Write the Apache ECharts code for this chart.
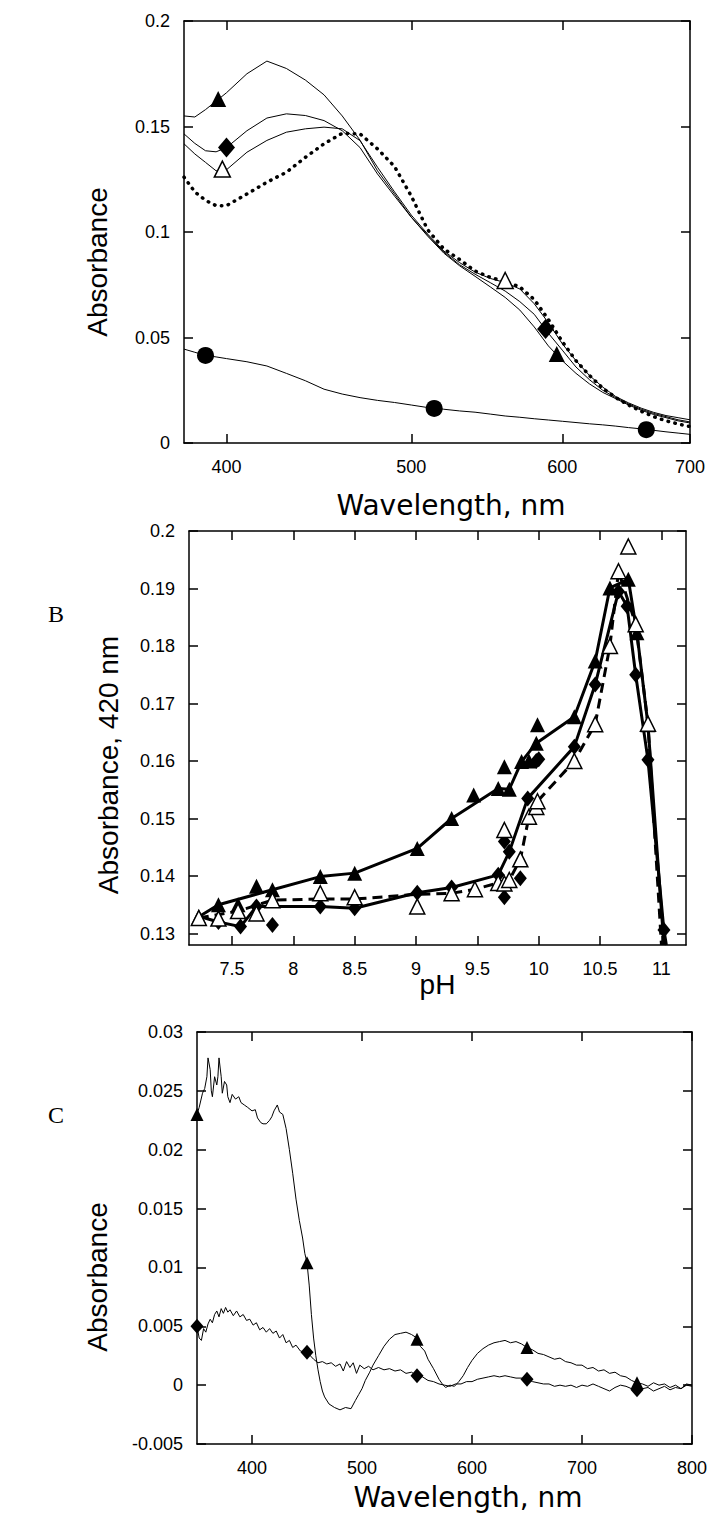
<!DOCTYPE html>
<html><head><meta charset="utf-8">
<script src="https://cdn.jsdelivr.net/npm/echarts@6.0.0/dist/echarts.min.js"></script>
<style>html,body{margin:0;padding:0;background:#fff}#chart{width:713px;height:1518px}</style>
</head><body><div id="chart"></div>
<script>
// ---------- Panel A: spectra (log wavelength axis) ----------
const wlA = [380,385,390,395,400,410,420,430,440,450,460,470,480,490,500,510,520,530,540,550,560,570,580,590,600,610,620,630,640,650,660,670,680,690,700];
const absA_triangle = [0.155,0.1545,0.158,0.162,0.166,0.175,0.181,0.1775,0.172,0.165,0.155,0.1435,0.129,0.118,0.107,0.098,0.090,0.084,0.079,0.074,0.069,0.063,0.055,0.046,0.039,0.033,0.028,0.024,0.021,0.018,0.0155,0.0135,0.012,0.0105,0.0095];
const absA_diamond = [0.1465,0.142,0.1385,0.138,0.140,0.148,0.154,0.156,0.1552,0.1528,0.148,0.140,0.1275,0.117,0.107,0.0985,0.0905,0.0845,0.080,0.076,0.072,0.067,0.061,0.052,0.044,0.036,0.030,0.025,0.0215,0.0185,0.016,0.014,0.0125,0.011,0.010];
const absA_openTriangle = [0.1418,0.137,0.133,0.129,0.1295,0.1378,0.1434,0.1473,0.1489,0.1497,0.1489,0.1433,0.1307,0.119,0.108,0.099,0.091,0.0855,0.081,0.078,0.076,0.073,0.066,0.057,0.047,0.039,0.032,0.0265,0.022,0.019,0.0165,0.0145,0.013,0.012,0.011];
const absA_dotted = [0.126,0.119,0.115,0.1125,0.1125,0.118,0.1236,0.1283,0.1354,0.1418,0.1468,0.1465,0.1394,0.131,0.117,0.101,0.092,0.087,0.0815,0.0785,0.0765,0.074,0.068,0.0585,0.048,0.039,0.032,0.026,0.0215,0.018,0.015,0.0125,0.0105,0.009,0.0078];
const absA_circle = [0.0445,0.043,0.0415,0.0408,0.040,0.0385,0.0365,0.033,0.0295,0.0255,0.0232,0.0215,0.0202,0.0192,0.018,0.0168,0.016,0.0152,0.0146,0.0137,0.0128,0.0122,0.0115,0.0109,0.0103,0.0097,0.0091,0.0086,0.008,0.0073,0.0067,0.006,0.0053,0.0047,0.0041];
const markA_triangle = [[396,0.163],[596,0.0422]];
const markA_diamond = [[400,0.140],[588,0.054]];
const markA_openTriangle = [[398,0.1298],[560,0.077]];
const markA_circle = [[390,0.0415],[514,0.0164],[664,0.0063]];
const ticksA_x = [400,500,600,700];

// ---------- Panel B: absorbance at 420 nm vs pH ----------
const pHB_triangle = [7.23,7.39,7.55,7.70,7.83,8.22,8.50,9.01,9.29,9.47,9.67,9.72,9.76,9.86,9.92,9.98,9.99,10.29,10.46,10.58,10.73,10.80,10.89];
const absB_triangle = [0.1329,0.1350,0.1350,0.1382,0.1376,0.1399,0.1405,0.1448,0.1500,0.1541,0.1552,0.1590,0.1551,0.1599,0.1600,0.1631,0.1663,0.1677,0.1774,0.1901,0.1916,0.1823,0.1663];
const pHB_triangleLine = [7.23,7.39,7.83,8.22,8.50,9.01,9.29,9.67,9.76,9.86,9.98,10.29,10.46,10.58,10.73,10.80,10.89,11.02];
const absB_triangleLine = [0.1329,0.1350,0.1376,0.1399,0.1405,0.1448,0.1500,0.1552,0.1551,0.1599,0.1631,0.1677,0.1774,0.1901,0.1916,0.1823,0.1663,0.128];
const pHB_diamond = [7.39,7.57,7.70,7.83,8.22,8.50,9.01,9.29,9.67,9.72,9.72,9.76,9.85,9.91,9.98,10.00,10.29,10.46,10.65,10.72,10.79,10.89,11.02];
const absB_diamond = [0.1320,0.1312,0.1347,0.1315,0.1347,0.1344,0.1371,0.1380,0.1402,0.1363,0.1460,0.1442,0.1396,0.1535,0.1600,0.1603,0.1625,0.1733,0.1895,0.1869,0.1750,0.1602,0.1306];
const pHB_diamondLine = [7.23,7.39,7.57,7.70,8.22,8.50,9.01,9.29,9.67,9.76,9.91,10.29,10.46,10.65,10.72,10.79,10.89,11.02,11.04];
const absB_diamondLine = [0.1330,0.1320,0.1312,0.1347,0.1347,0.1344,0.1371,0.1380,0.1402,0.1442,0.1535,0.1625,0.1733,0.1895,0.1869,0.1750,0.1602,0.1306,0.128];
const pHB_openTriangle = [7.23,7.39,7.55,7.70,7.83,8.22,8.50,9.01,9.29,9.48,9.67,9.72,9.72,9.76,9.85,9.92,9.98,9.99,10.29,10.46,10.58,10.65,10.73,10.79,10.89];
const absB_openTriangle = [0.1327,0.1326,0.1339,0.1335,0.1358,0.1370,0.1363,0.1347,0.1370,0.1377,0.1388,0.1480,0.1387,0.1393,0.1429,0.1503,0.1520,0.1530,0.1600,0.1664,0.1800,0.1930,0.1973,0.1838,0.1665];
const pHB_dashedLine = [7.23,7.55,7.83,8.22,8.50,9.01,9.29,9.48,9.67,9.76,9.85,9.92,9.99,10.29,10.46,10.58,10.65,10.79,10.89,11.00];
const absB_dashedLine = [0.1327,0.1339,0.1358,0.1360,0.1360,0.1368,0.1370,0.1377,0.1388,0.1393,0.1429,0.1503,0.1530,0.1600,0.1664,0.1800,0.1930,0.1838,0.1665,0.128];
const ticksB_x = [7.5,8,8.5,9,9.5,10,10.5,11];
const ticksB_y = [0.13,0.14,0.15,0.16,0.17,0.18,0.19,0.2];

// ---------- Panel C: difference spectra ----------
const wlC_triangle = [350,352,355,357,359,360,362,363,364,366,368,369,370,372,373,375,377,378,380,382,385,388,390,393,396,400,403,405,408,410,413,416,418,420,423,425,428,431,434,437,440,443,446,448,450,452,454,456,458,460,462,464,466,470,475,480,485,490,494,497,500,503,507,510,515,520,525,530,535,540,545,550,553,557,560,565,570,573,576,580,584,588,592,596,600,605,610,615,620,625,630,635,640,645,650,655,660,665,670,675,680,685,690,695,700,705,710,715,720,725,730,735,740,745,750,755,760,765,770,775,780,785,790,795,800];
const absC_triangle = [0.0230,0.0236,0.0248,0.0252,0.0262,0.0278,0.0268,0.0250,0.0245,0.0262,0.0255,0.0262,0.0278,0.0262,0.0248,0.0258,0.0255,0.0245,0.0240,0.0247,0.0243,0.0245,0.0240,0.0238,0.0236,0.0233,0.0234,0.0227,0.0223,0.0222,0.0222,0.0225,0.0228,0.0233,0.0238,0.0232,0.0230,0.0218,0.0200,0.0180,0.0158,0.0140,0.0125,0.0112,0.0104,0.0085,0.0060,0.0040,0.0025,0.0013,0.0003,-0.0005,-0.0010,-0.0016,-0.0019,-0.0021,-0.0019,-0.0020,-0.0013,-0.0008,-0.0003,0.0004,0.0011,0.0017,0.0025,0.0033,0.0039,0.0043,0.0044,0.0045,0.0043,0.0040,0.0033,0.0029,0.0022,0.0014,0.0005,0.0001,-0.0002,0.0000,-0.0001,0.0003,0.0008,0.0015,0.0021,0.0027,0.0031,0.0034,0.0036,0.0037,0.0038,0.0036,0.0037,0.0035,0.0032,0.0030,0.0027,0.0026,0.0024,0.0022,0.0023,0.0020,0.0019,0.0017,0.0017,0.0014,0.0015,0.0012,0.0013,0.0010,0.0011,0.0008,0.0007,0.0004,0.0002,0.0001,-0.0001,0.0002,0.0000,0.0001,-0.0002,0.0000,-0.0003,0.0001,0.0000];
const wlC_diamond = [350,352,354,356,358,360,362,364,366,368,370,372,374,376,378,380,383,386,389,392,395,398,401,404,407,410,413,416,419,422,425,428,431,434,437,440,444,448,452,456,460,464,468,472,476,480,483,486,489,492,495,498,502,506,510,515,520,525,530,535,540,545,550,555,560,565,570,575,580,585,590,595,600,605,610,615,620,625,630,635,640,645,650,655,660,665,670,675,680,685,690,695,700,705,710,715,720,725,730,735,740,745,750,755,760,765,770,775,780,785,790,795,800];
const absC_diamond = [0.0050,0.0040,0.0038,0.0048,0.0045,0.0052,0.0056,0.0053,0.0060,0.0063,0.0058,0.0065,0.0061,0.0066,0.0062,0.0064,0.0059,0.0063,0.0058,0.0060,0.0055,0.0056,0.0051,0.0053,0.0047,0.0049,0.0045,0.0048,0.0044,0.0046,0.0040,0.0043,0.0036,0.0038,0.0032,0.0034,0.0029,0.0028,0.0026,0.0022,0.0019,0.0020,0.0018,0.0019,0.0016,0.0018,0.0012,0.0020,0.0015,0.0019,0.0010,0.0017,0.0014,0.0016,0.0013,0.0015,0.0013,0.0014,0.0012,0.0013,0.0010,0.0011,0.0008,0.0007,0.0004,0.0003,0.0001,0.0000,-0.0001,0.0001,0.0001,0.0003,0.0003,0.0005,0.0006,0.0007,0.0008,0.0007,0.0008,0.0007,0.0006,0.0006,0.0005,0.0003,0.0002,0.0001,0.0001,-0.0001,0.0000,-0.0001,0.0000,-0.0002,0.0000,-0.0001,0.0001,-0.0001,-0.0003,-0.0005,-0.0002,0.0000,-0.0001,-0.0003,-0.0004,-0.0003,-0.0002,-0.0005,-0.0003,-0.0001,-0.0004,-0.0002,-0.0003,0.0000,-0.0001];
const markC_triangle = [[350,0.0230],[450,0.0104],[550,0.0039],[650,0.0032],[750,0.0002]];
const markC_diamond = [[350,0.0050],[450,0.0028],[550,0.0008],[650,0.0005],[750,-0.0004]];
const ticksC_x = [400,500,600,700,800];

// ---------- helpers ----------
const SANS = '"Liberation Sans", Arial, Helvetica, sans-serif';
const DEJAVU = '"DejaVu Sans", Verdana, sans-serif';
const SERIF = '"Liberation Serif", "Times New Roman", serif';
const zip = (xs, ys) => xs.map((x, i) => [x, ys[i]]);
const BLACK = '#000';
const axisLine = {show: true, onZero: false, lineStyle: {color: BLACK, width: 1.5}};
const tickBase = {show: true, inside: true, length: 9, lineStyle: {color: BLACK, width: 1.5}};
const labelBase = {color: BLACK, fontFamily: SANS, fontSize: 18};

function xAxes(g, base, custom, fmt, name, nameGap, nameFont, padLeft) {
  const bottom = Object.assign({}, base, {
    gridIndex: g, position: 'bottom', axisLine,
    axisTick: Object.assign({}, tickBase, custom ? {customValues: custom} : {}),
    axisLabel: Object.assign({}, labelBase, {margin: 15, formatter: fmt}, custom ? {customValues: custom} : {}),
    splitLine: {show: false},
    name, nameLocation: 'middle', nameGap, nameMoveOverlap: false,
    nameTextStyle: {color: BLACK, fontFamily: nameFont, fontSize: 28, padding: [0, 0, 0, padLeft]}
  });
  const top = Object.assign({}, base, {
    gridIndex: g, position: 'top', axisLine,
    axisTick: Object.assign({}, tickBase, custom ? {customValues: custom} : {}),
    axisLabel: {show: false}, splitLine: {show: false}
  });
  return [bottom, top];
}
function yAxes(g, base, custom, fmt, name, nameGap, padRight) {
  const left = Object.assign({}, base, {
    gridIndex: g, position: 'left', axisLine,
    axisTick: Object.assign({}, tickBase, custom ? {customValues: custom} : {}),
    axisLabel: Object.assign({}, labelBase, {margin: 14, formatter: fmt}, custom ? {customValues: custom} : {}),
    splitLine: {show: false},
    name, nameLocation: 'middle', nameGap, nameMoveOverlap: false,
    nameTextStyle: {color: BLACK, fontFamily: SANS, fontSize: 28, padding: [0, padRight, 0, 0]}
  });
  const right = Object.assign({}, base, {
    gridIndex: g, position: 'right', axisLine,
    axisTick: Object.assign({}, tickBase, custom ? {customValues: custom} : {}),
    axisLabel: {show: false}, splitLine: {show: false}
  });
  return [left, right];
}
function lineS(g, data, lineStyle) {
  return {type: 'line', xAxisIndex: 2 * g, yAxisIndex: 2 * g, data, symbol: 'none', showSymbol: false,
    clip: true, animation: false, silent: true, z: 2,
    lineStyle: Object.assign({color: BLACK, width: 1, opacity: 1}, lineStyle)};
}
function markS(g, data, symbol, size, filled) {
  return {type: 'scatter', xAxisIndex: 2 * g, yAxisIndex: 2 * g, data, symbol, symbolSize: size,
    animation: false, silent: true, z: 3,
    itemStyle: filled ? {color: BLACK, opacity: 1} : {color: '#fff', borderColor: BLACK, borderWidth: 1.5, opacity: 1}};
}
const fmtNum = (d) => (v) => String(+(+v).toFixed(d));

const option = {
  backgroundColor: '#fff',
  animation: false,
  grid: [
    {left: 184, top: 21, width: 506, height: 422, containLabel: false, outerBoundsMode: 'none'},
    {left: 189, top: 531, width: 497, height: 414, containLabel: false, outerBoundsMode: 'none'},
    {left: 197, top: 1032, width: 495, height: 412, containLabel: false, outerBoundsMode: 'none'}
  ],
  xAxis: [
    ...xAxes(0, {type: 'log', logBase: 10, min: 380, max: 700}, ticksA_x, (v) => String(Math.round(v)), 'Wavelength, nm', 48, DEJAVU, 28),
    ...xAxes(1, {type: 'value', min: 7.15, max: 11.2}, ticksB_x, fmtNum(1), 'pH', 25, SANS, 0),
    ...xAxes(2, {type: 'value', min: 350, max: 800}, ticksC_x, (v) => String(Math.round(v)), 'Wavelength, nm', 39, DEJAVU, 47)
  ],
  yAxis: [
    ...yAxes(0, {type: 'value', min: 0, max: 0.2, interval: 0.05}, null, fmtNum(2), 'Absorbance', 73, 60),
    ...yAxes(1, {type: 'value', min: 0.128, max: 0.2}, ticksB_y, fmtNum(2), 'Absorbance, 420 nm', 67, 54),
    ...yAxes(2, {type: 'value', min: -0.005, max: 0.03, interval: 0.005}, null, fmtNum(3), 'Absorbance', 86, 78)
  ],
  graphic: [
    {type: 'text', left: 48, top: 602, style: {text: 'B', font: '24px ' + SERIF, fill: BLACK}},
    {type: 'text', left: 48, top: 1103, style: {text: 'C', font: '24px ' + SERIF, fill: BLACK}}
  ],
  series: [
    // Panel A
    lineS(0, zip(wlA, absA_triangle), {width: 1}),
    lineS(0, zip(wlA, absA_diamond), {width: 1}),
    lineS(0, zip(wlA, absA_openTriangle), {width: 1}),
    lineS(0, zip(wlA, absA_circle), {width: 1}),
    lineS(0, zip(wlA, absA_dotted), {width: 3.5, type: [0.5, 6.5], cap: 'round'}),
    markS(0, markA_triangle, 'triangle', 16, true),
    markS(0, markA_diamond, 'diamond', [17, 20], true),
    markS(0, markA_openTriangle, 'triangle', 16, false),
    markS(0, markA_circle, 'circle', 17, true),
    // Panel B
    lineS(1, zip(pHB_triangleLine, absB_triangleLine), {width: 3}),
    lineS(1, zip(pHB_diamondLine, absB_diamondLine), {width: 3}),
    lineS(1, zip(pHB_dashedLine, absB_dashedLine), {width: 3, type: [10, 6]}),
    markS(1, zip(pHB_diamond, absB_diamond), 'diamond', [13, 16], true),
    markS(1, zip(pHB_triangle, absB_triangle), 'triangle', 15, true),
    markS(1, zip(pHB_openTriangle, absB_openTriangle), 'triangle', 15, false),
    // Panel C
    lineS(2, zip(wlC_triangle, absC_triangle), {width: 1}),
    lineS(2, zip(wlC_diamond, absC_diamond), {width: 1}),
    markS(2, markC_triangle, 'triangle', 13, true),
    markS(2, markC_diamond, 'diamond', [13, 15], true)
  ]
};
const chart = echarts.init(document.getElementById('chart'), null, {renderer: 'svg', width: 713, height: 1518});
chart.setOption(option);
</script></body></html>
